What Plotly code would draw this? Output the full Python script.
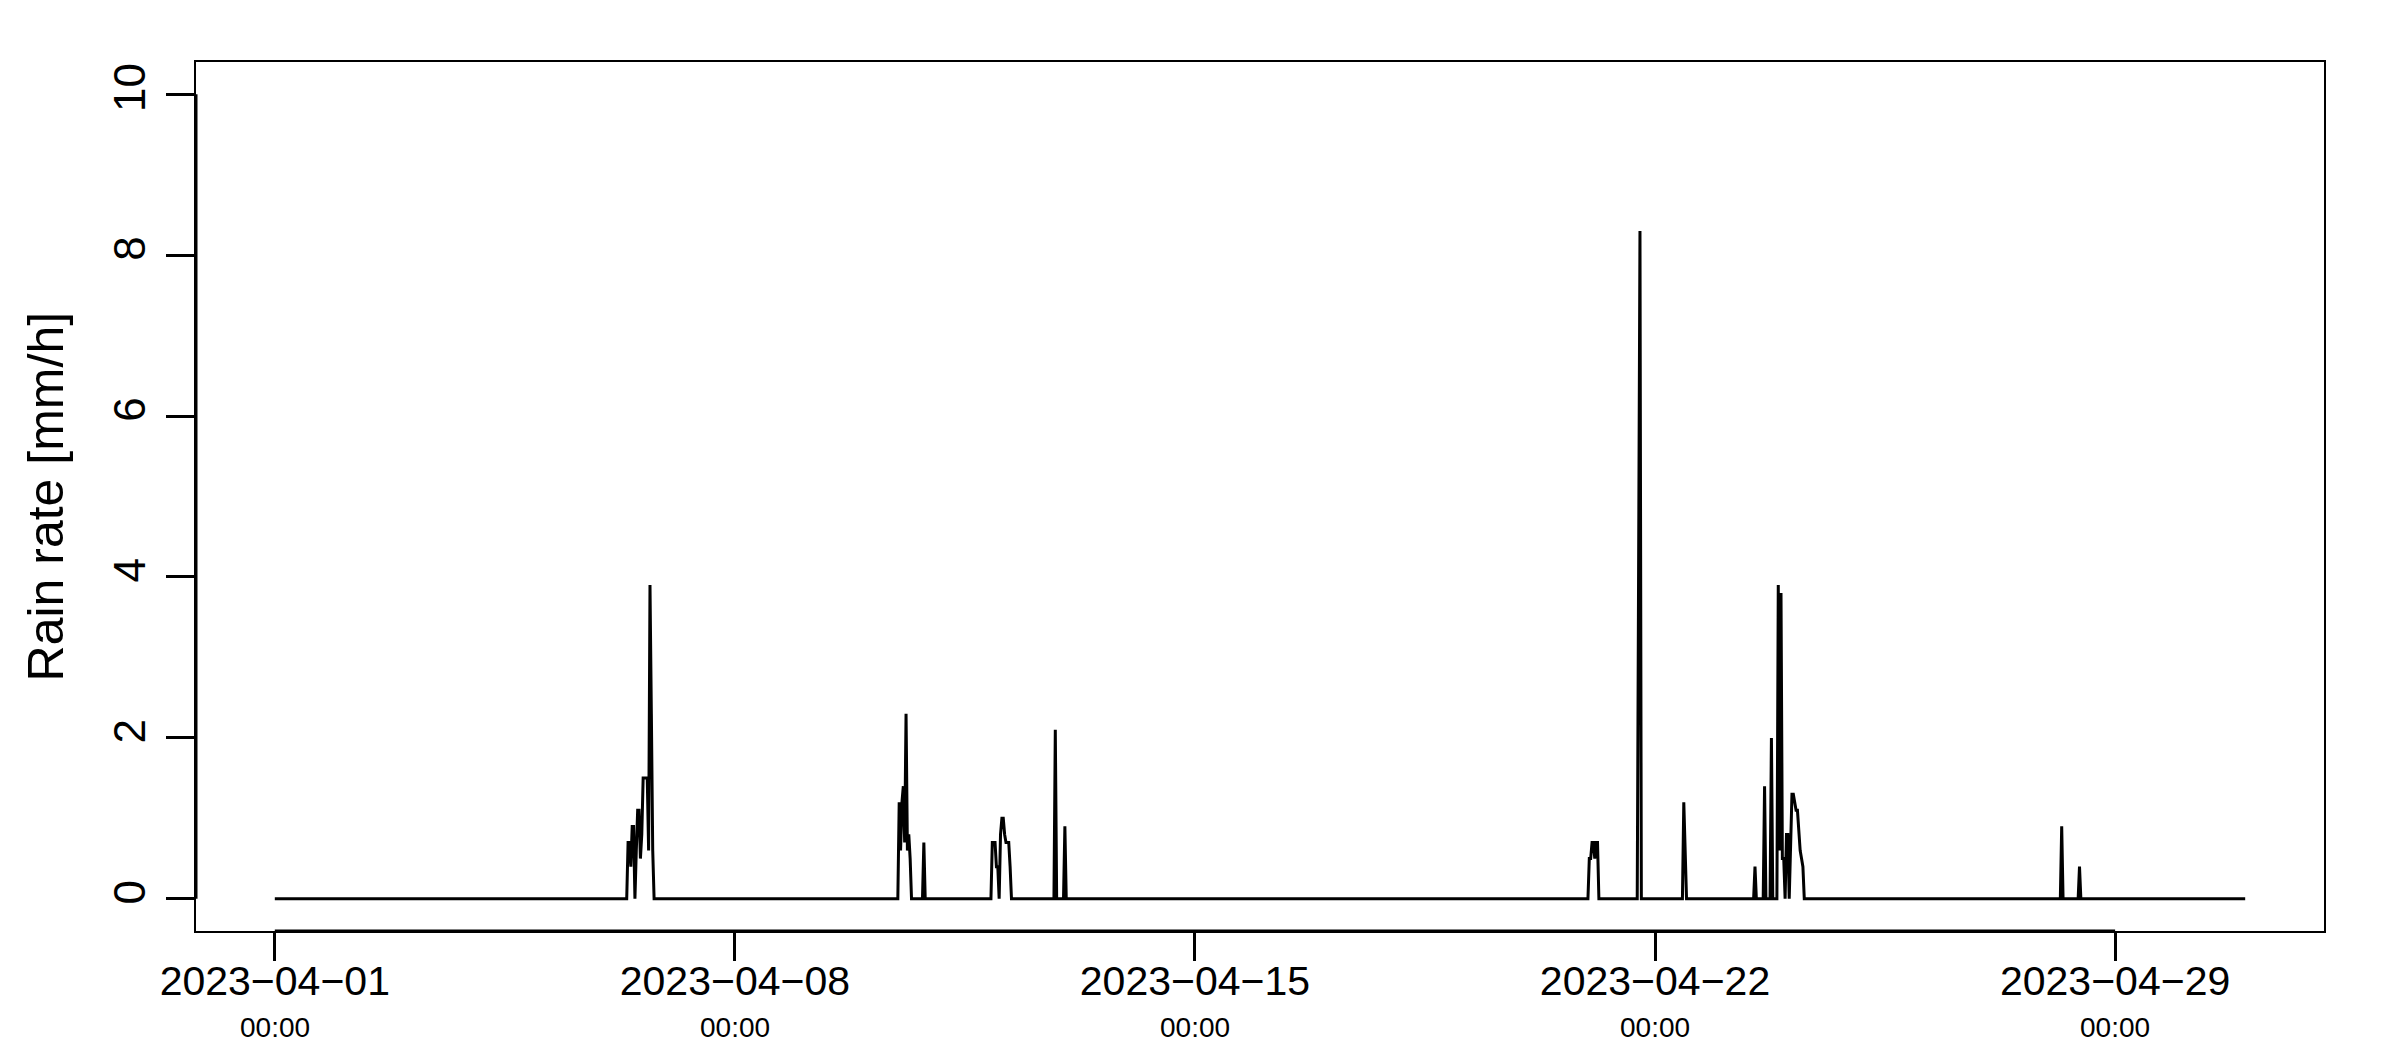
import pandas as pd
import plotly.graph_objects as go

# ---- data (rain rate, mm/h, 30-min steps; zero outside the listed events) ----
series_start = "2023-04-01 00:00"
series_end = "2023-04-30 23:30"

event_starts = [
    "2023-04-06 08:30",
    "2023-04-10 11:30",
    "2023-04-10 20:30",
    "2023-04-11 21:30",
    "2023-04-12 20:30",
    "2023-04-13 00:00",
    "2023-04-20 23:30",
    "2023-04-21 17:30",
    "2023-04-22 10:00",
    "2023-04-23 12:00",
    "2023-04-23 15:30",
    "2023-04-23 18:00",
    "2023-04-23 20:30",
    "2023-04-28 04:00",
    "2023-04-28 10:30",
]

ev_0406 = [0, 0.7, 0.7, 0.4, 0.9, 0.9, 0.0, 0.6, 1.1, 1.1, 0.5, 0.8, 1.5, 1.5, 1.5, 1.5, 0.6, 3.9, 2.3, 0.6, 0]
ev_0410a = [0, 1.2, 0.6, 1.2, 1.4, 0.7, 2.3, 0.6, 0.8, 0.5, 0]
ev_0410b = [0, 0.7, 0]
ev_0411 = [0, 0.7, 0.7, 0.7, 0.4, 0.4, 0.0, 0.8, 1.0, 1.0, 0.8, 0.7, 0.7, 0.7, 0.4, 0]
ev_0412 = [0, 2.1, 0]
ev_0413 = [0, 0.9, 0]
ev_0421a = [0, 0.5, 0.5, 0.7, 0.7, 0.5, 0.7, 0.7, 0]
ev_0421b = [0, 4.1, 8.3, 0]
ev_0422 = [0, 1.2, 0.7, 0]
ev_0423a = [0, 0.4, 0]
ev_0423b = [0, 1.4, 0]
ev_0423c = [0, 2.0, 0]
ev_0423d = [0, 3.9, 0.6, 3.8, 0.5, 0.5, 0.0, 0.8, 0.8, 0.0, 0.8, 1.3, 1.3, 1.2, 1.1, 1.1, 0.8, 0.6, 0.5, 0.4, 0]
ev_0428a = [0, 0.9, 0]
ev_0428b = [0, 0.4, 0]

event_values = [ev_0406, ev_0410a, ev_0410b, ev_0411, ev_0412, ev_0413, ev_0421a,
                ev_0421b, ev_0422, ev_0423a, ev_0423b, ev_0423c, ev_0423d, ev_0428a, ev_0428b]

tick_dates = ["2023-04-01", "2023-04-08", "2023-04-15", "2023-04-22", "2023-04-29"]
tick_time_label = "00:00"
y_ticks = [0, 2, 4, 6, 8, 10]
y_title = "Rain rate [mm/h]"

# ---- build series ----
idx = pd.date_range(series_start, series_end, freq="30min")
rain = pd.Series(0.0, index=idx)
for start, vals in zip(event_starts, event_values):
    times = pd.date_range(start, periods=len(vals), freq="30min")
    rain.loc[times] = vals

t0, t1 = idx[0], idx[-1]
pad = (t1 - t0) * 0.04
x_range = [t0 - pad, t1 + pad]

FONT = "Liberation Sans, Arial, Helvetica, sans-serif"

fig = go.Figure()
fig.add_trace(go.Scatter(x=rain.index, y=rain.values, mode="lines",
                         line=dict(color="black", width=3), hoverinfo="x+y",
                         showlegend=False))

tick_text = [d.replace("-", "\u2212") for d in tick_dates]

fig.update_layout(
    width=2400, height=1050,
    margin=dict(l=188, r=84, t=54, b=127),
    paper_bgcolor="white", plot_bgcolor="white",
    font=dict(family=FONT, color="black"),
    xaxis=dict(range=x_range, showgrid=False, zeroline=False,
               showline=True, linecolor="black", linewidth=2, mirror=True,
               tickmode="array", tickvals=tick_dates, ticktext=tick_text,
               ticks="outside", ticklen=28, tickwidth=3, tickcolor="black",
               ticklabelstandoff=-15,
               tickfont=dict(size=41, family=FONT)),
    yaxis=dict(range=[-0.4, 10.4], showgrid=False, zeroline=False,
               showline=True, linecolor="black", linewidth=2, mirror=True,
               tickmode="array", tickvals=y_ticks,
               ticks="outside", ticklen=28, tickwidth=3, tickcolor="black",
               ticklabelstandoff=3,
               tickangle=-90, tickfont=dict(size=44, family=FONT)),
)

# R-style axis lines spanning first to last tick
fig.add_shape(type="line", xref="x", yref="paper", x0=tick_dates[0], x1=tick_dates[-1],
              y0=0, y1=0, line=dict(color="black", width=3))
fig.add_shape(type="line", xref="paper", yref="y", x0=0, x1=0,
              y0=y_ticks[0], y1=y_ticks[-1], line=dict(color="black", width=3))

for d in tick_dates:
    fig.add_annotation(x=d, xref="x", y=-0.1105, yref="paper", text=tick_time_label,
                       showarrow=False, yanchor="middle", xanchor="center",
                       font=dict(size=28, family=FONT))

fig.add_annotation(x=-0.0705, xref="paper", y=0.5, yref="paper", text=y_title,
                   textangle=-90, showarrow=False, xanchor="center", yanchor="middle",
                   font=dict(size=50, family=FONT))

fig.write_html("out.html")
